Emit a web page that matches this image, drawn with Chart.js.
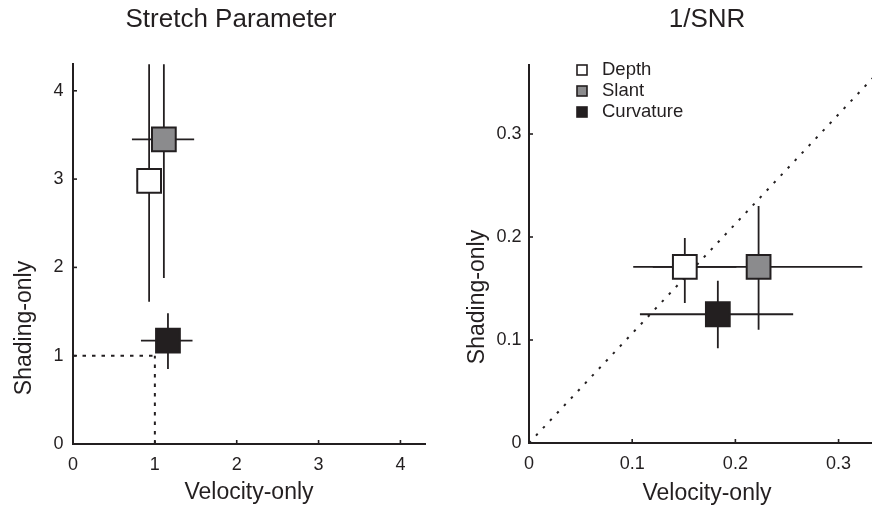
<!DOCTYPE html>
<html>
<head>
<meta charset="utf-8">
<title>Stretch Parameter - 1/SNR</title>
<script src="https://cdn.jsdelivr.net/npm/chart.js@4.4.1/dist/chart.umd.min.js"></script>
<style>
  html, body { margin: 0; padding: 0; width: 872px; height: 507px; overflow: hidden; background: #fff; }
  canvas { position: absolute; top: 0; }
  #left { left: 0; }
  #right { left: 440px; }
</style>
</head>
<body>
<canvas id="left" width="460" height="507"></canvas>
<canvas id="right" width="475" height="507"></canvas>
<script>
// conditions, same order in both panels
var conditions = ['Depth', 'Slant', 'Curvature'];
var fills = ['#ffffff', '#8b8b8d', '#231f20'];

// panel 1: stretch parameter (velocity-only vs shading-only)
var stretchX   = [0.93, 1.11, 1.16];
var stretchY   = [2.98, 3.45, 1.17];
var stretchXLo = [0.78, 0.72, 0.83];
var stretchXHi = [1.08, 1.48, 1.46];
var stretchYLo = [1.61, 1.88, 0.85];
var stretchYHi = [4.6, 4.6, 1.48];
var stretchTicks = [0, 1, 2, 3, 4];
var stretchMax = 4.3;

// panel 2: 1/SNR
var snrX   = [0.151, 0.2225, 0.183];
var snrY   = [0.171, 0.171, 0.125];
var snrXLo = [0.101, 0.120, 0.1075];
var snrXHi = [0.201, 0.323, 0.256];
var snrYLo = [0.136, 0.110, 0.092];
var snrYHi = [0.199, 0.230, 0.1576];
var snrTicks = [0, 0.1, 0.2, 0.3];
var snrXMax = 0.345;
var snrYMax = 0.367;

var ink = '#231f20';
var fam = '"Liberation Sans", Arial, Helvetica, sans-serif';

function markerSets(xs, ys, xlo, xhi, ylo, yhi) {
  var sets = [];
  for (var i = 0; i < conditions.length; i++) {
    sets.push({
      type: 'scatter',
      label: conditions[i],
      data: [{ x: xs[i], y: ys[i], xLo: xlo[i], xHi: xhi[i], yLo: ylo[i], yHi: yhi[i] }],
      pointStyle: 'rect',
      pointRadius: 16.8,
      backgroundColor: fills[i],
      borderColor: ink,
      borderWidth: 2,
      isMarker: true,
      order: 0
    });
  }
  return sets;
}

function refLine(pts, dash) {
  return {
    type: 'line',
    label: 'ref',
    data: pts,
    showLine: true,
    pointRadius: 0,
    borderColor: ink,
    borderWidth: 2,
    borderDash: dash,
    borderCapStyle: 'butt',
    fill: false,
    order: 5
  };
}

// error bars, drawn under the squares
var errorBars = {
  id: 'errorBars',
  beforeDatasetsDraw: function(chart) {
    var ctx = chart.ctx, a = chart.chartArea;
    var xs = chart.scales.x, ys = chart.scales.y;
    ctx.save();
    ctx.beginPath();
    ctx.rect(a.left, a.top, a.right - a.left, a.bottom - a.top);
    ctx.clip();
    ctx.strokeStyle = ink;
    ctx.lineWidth = 1.8;
    chart.data.datasets.forEach(function(ds) {
      if (!ds.isMarker) return;
      ds.data.forEach(function(p) {
        var px = xs.getPixelForValue(p.x), py = ys.getPixelForValue(p.y);
        ctx.beginPath();
        ctx.moveTo(xs.getPixelForValue(p.xLo), py);
        ctx.lineTo(xs.getPixelForValue(p.xHi), py);
        ctx.moveTo(px, ys.getPixelForValue(p.yLo));
        ctx.lineTo(px, ys.getPixelForValue(p.yHi));
        ctx.stroke();
      });
    });
    ctx.restore();
  }
};

// small tick marks pointing into the plot
var innerTicks = {
  id: 'innerTicks',
  afterDatasetsDraw: function(chart) {
    var ctx = chart.ctx, a = chart.chartArea;
    ctx.save();
    ctx.strokeStyle = ink;
    ctx.lineWidth = 1.6;
    chart.scales.x.ticks.forEach(function(t) {
      var px = chart.scales.x.getPixelForValue(t.value);
      if (t.value === 0) return;
      ctx.beginPath();
      ctx.moveTo(px, a.bottom);
      ctx.lineTo(px, a.bottom - 4);
      ctx.stroke();
    });
    chart.scales.y.ticks.forEach(function(t) {
      var py = chart.scales.y.getPixelForValue(t.value);
      if (t.value === 0) return;
      ctx.beginPath();
      ctx.moveTo(a.left, py);
      ctx.lineTo(a.left + 4, py);
      ctx.stroke();
    });
    ctx.restore();
  }
};

// legend inside the plot, from the marker datasets
var boxLegend = {
  id: 'boxLegend',
  afterDraw: function(chart, args, opts) {
    if (!opts.show) return;
    var ctx = chart.ctx;
    var row = 0;
    ctx.save();
    ctx.font = '18.5px ' + fam;
    ctx.textBaseline = 'middle';
    ctx.textAlign = 'left';
    chart.data.datasets.forEach(function(ds) {
      if (!ds.isMarker) return;
      var cy = opts.y + row * opts.rowHeight;
      ctx.fillStyle = ds.backgroundColor;
      ctx.fillRect(opts.x, cy - 5, 10, 10);
      ctx.strokeStyle = ink;
      ctx.lineWidth = 1.6;
      ctx.strokeRect(opts.x, cy - 5, 10, 10);
      ctx.fillStyle = ink;
      ctx.fillText(ds.label, opts.x + 25, cy);
      row++;
    });
    ctx.restore();
  }
};

// y axis title, sits lower than the middle of the axis in the original
var sideTitle = {
  id: 'sideTitle',
  afterDraw: function(chart, args, opts) {
    var ctx = chart.ctx;
    ctx.save();
    ctx.translate(opts.x, opts.y);
    ctx.rotate(-Math.PI / 2);
    ctx.font = '23px ' + fam;
    ctx.fillStyle = ink;
    ctx.textAlign = 'center';
    ctx.textBaseline = 'middle';
    ctx.fillText(opts.text, 0, 0);
    ctx.restore();
  }
};

function axis(max, tickList, titleText, titlePad, fitSize, horizontal, labelPad) {
  return {
    type: 'linear',
    min: 0,
    max: max,
    afterBuildTicks: function(s) { s.ticks = tickList.map(function(v) { return { value: v }; }); },
    ticks: {
      padding: labelPad,
      maxRotation: 0,
      color: ink,
      font: { family: fam, size: 18 },
      callback: function(v) { return String(v); }
    },
    grid: { display: false, drawTicks: false },
    border: { display: true, color: ink, width: 2 },
    title: {
      display: horizontal,
      text: titleText,
      color: ink,
      font: { family: fam, size: 23 },
      padding: titlePad
    },
    afterFit: function(s) {
      if (horizontal) s.height = fitSize; else s.width = fitSize;
    }
  };
}

function baseOptions(titleText, titlePad, fullSize, pad) {
  return {
    responsive: false,
    animation: false,
    events: [],
    layout: { padding: pad },
    plugins: {
      legend: { display: false },
      tooltip: { enabled: false },
      title: {
        display: true,
        text: titleText,
        color: ink,
        fullSize: fullSize,
        font: { family: fam, size: 26, weight: 'normal' },
        padding: titlePad
      }
    }
  };
}

// left panel
var leftSets = markerSets(stretchX, stretchY, stretchXLo, stretchXHi, stretchYLo, stretchYHi);
leftSets.push(refLine([{ x: 0, y: 1 }, { x: 1, y: 1 }], [3.5, 6]));
leftSets.push(refLine([{ x: 1, y: 0 }, { x: 1, y: 1 }], [3.5, 6]));

var leftOpts = baseOptions('Stretch Parameter', { top: 4, bottom: 29.1 }, true, { left: 37, right: 35, top: 0, bottom: 0 });
leftOpts.scales = {
  x: axis(stretchMax, stretchTicks, 'Velocity-only', { top: 0, bottom: 0.5 }, 63, true, 10),
  y: axis(stretchMax, stretchTicks, 'Shading-only', 0, 36, false, 9.5)
};
leftOpts.plugins.boxLegend = { show: false };
leftOpts.plugins.sideTitle = { text: 'Shading-only', x: 25, y: 328 };

new Chart(document.getElementById('left'), {
  type: 'scatter',
  data: { datasets: leftSets },
  options: leftOpts,
  plugins: [errorBars, innerTicks, boxLegend, sideTitle]
});

// right panel
var rightSets = markerSets(snrX, snrY, snrXLo, snrXHi, snrYLo, snrYHi);
rightSets.push(refLine([{ x: 0, y: 0 }, { x: snrXMax, y: snrYMax }], [2.5, 7.7]));

var rightOpts = baseOptions('1/SNR', { top: 4, bottom: 29.8 }, false, { left: 0, right: 30, top: 0, bottom: 0 });
rightOpts.scales = {
  x: axis(snrXMax, snrTicks, 'Velocity-only', { top: 0, bottom: 0 }, 64, true, 10),
  y: axis(snrYMax, snrTicks, 'Shading-only', 0, 89, false, 7.5)
};
rightOpts.plugins.boxLegend = { show: true, x: 137, y: 70, rowHeight: 21 };
rightOpts.plugins.sideTitle = { text: 'Shading-only', x: 38, y: 297 };

new Chart(document.getElementById('right'), {
  type: 'scatter',
  data: { datasets: rightSets },
  options: rightOpts,
  plugins: [errorBars, innerTicks, boxLegend, sideTitle]
});
</script>
</body>
</html>
